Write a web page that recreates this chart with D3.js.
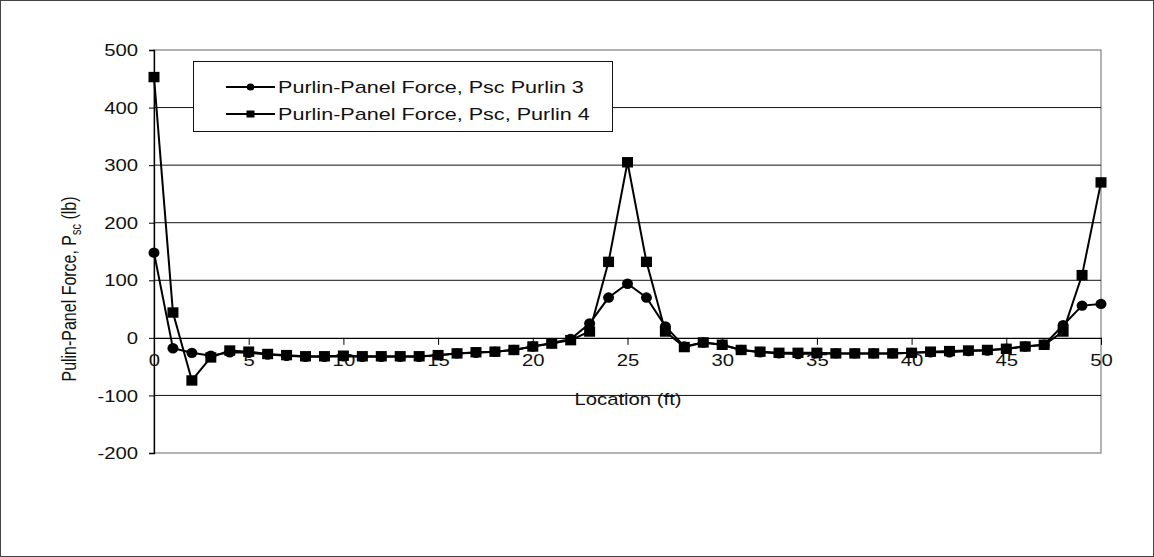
<!DOCTYPE html>
<html>
<head>
<meta charset="utf-8">
<script src="https://cdn.jsdelivr.net/npm/d3@7"></script>
<style>
  html, body { margin: 0; padding: 0; background: #fff; }
  svg { display: block; }
  text { font-family: "Liberation Sans", Arial, sans-serif; fill: #111; }
</style>
</head>
<body>
<svg id="chart" width="1154" height="557"></svg>
<script>
// Location along the purlin (ft)
const locations = d3.range(0, 51);

// Purlin-panel force, Purlin 3 (lb)
const purlin3 = [148, -18, -26, -31, -25, -26, -29, -31, -33, -33,
  -32, -33, -33, -33, -33, -30, -27, -26, -24, -21,
  -15, -9, -2, 25, 70, 94, 70, 20, -15, -8,
  -12, -21, -25, -27, -28, -27, -27, -27, -27, -27,
  -26, -25, -25, -23, -22, -19, -15, -12, 22, 56, 59];

// Purlin-panel force, Purlin 4 (lb)
const purlin4 = [453, 44, -74, -34, -22, -24, -28, -30, -32, -32,
  -31, -32, -32, -32, -32, -30, -27, -25, -24, -21,
  -15, -10, -4, 11, 132, 305, 132, 11, -16, -8,
  -12, -21, -24, -26, -26, -26, -27, -27, -27, -27,
  -26, -24, -23, -22, -21, -19, -15, -12, 11, 109, 270];

const seriesNames = ["Purlin-Panel Force, Psc Purlin 3", "Purlin-Panel Force, Psc, Purlin 4"];
const xTicks = [0, 5, 10, 15, 20, 25, 30, 35, 40, 45, 50];
const yTicks = [-200, -100, 0, 100, 200, 300, 400, 500];

const W = 1154, H = 557;
const plot = { left: 154, right: 1101, top: 50, bottom: 453 };
const SX = 1.27; // horizontal stretch of lettering

const svg = d3.select("#chart");

// outer frame
svg.append("rect")
  .attr("x", 0.5).attr("y", 0.5).attr("width", W - 1).attr("height", H - 1)
  .attr("fill", "#fff").attr("stroke", "#444").attr("stroke-width", 1);

const x = d3.scaleLinear().domain([0, 50]).range([plot.left, plot.right]);
const y = d3.scaleLinear().domain([-200, 500]).range([plot.bottom, plot.top]);

// plot area border
svg.append("rect")
  .attr("x", plot.left).attr("y", plot.top)
  .attr("width", plot.right - plot.left).attr("height", plot.bottom - plot.top)
  .attr("fill", "none").attr("stroke", "#8a8a8a").attr("stroke-width", 1.3);

// horizontal gridlines
svg.append("g").selectAll("line")
  .data(yTicks.filter(v => v > -200 && v < 500 && v !== 0))
  .join("line")
  .attr("x1", plot.left).attr("x2", plot.right)
  .attr("y1", d => y(d)).attr("y2", d => y(d))
  .attr("stroke", "#111").attr("stroke-width", 1);

// plain hyphen-minus labels
const fmt = d => String(d);

// y axis
const yAxis = svg.append("g")
  .attr("transform", `translate(${plot.left},0)`)
  .call(d3.axisLeft(y).tickValues(yTicks).tickFormat(fmt).tickSize(5).tickPadding(0));
yAxis.select(".domain").attr("stroke", "#000").attr("stroke-width", 1.3);
yAxis.selectAll(".tick line").attr("stroke", "#000");
yAxis.selectAll(".tick text")
  .attr("font-size", 16)
  .attr("font-family", "Liberation Sans, Arial, sans-serif")
  .attr("fill", "#111")
  .attr("x", -16 / SX)
  .attr("dy", "0.35em")
  .attr("transform", `scale(${SX},1)`);

// x axis drawn along zero line
const xAxis = svg.append("g")
  .attr("transform", `translate(0,${y(0)})`)
  .call(d3.axisBottom(x).tickValues(xTicks).tickFormat(fmt).tickSize(7).tickPadding(10).tickSizeOuter(0));
xAxis.select(".domain").attr("stroke", "#000").attr("stroke-width", 1.3);
xAxis.selectAll(".tick line").attr("stroke", "#000");
xAxis.selectAll(".tick text")
  .attr("font-size", 16)
  .attr("font-family", "Liberation Sans, Arial, sans-serif")
  .attr("fill", "#111")
  .attr("transform", `scale(${SX},1)`);

// series lines and markers
const line = d3.line().x((d, i) => x(locations[i])).y(d => y(d));

svg.append("path").datum(purlin3)
  .attr("d", line).attr("fill", "none").attr("stroke", "#000").attr("stroke-width", 2);
svg.append("path").datum(purlin4)
  .attr("d", line).attr("fill", "none").attr("stroke", "#000").attr("stroke-width", 2);

svg.append("g").selectAll("ellipse")
  .data(purlin3)
  .join("ellipse")
  .attr("cx", (d, i) => x(locations[i])).attr("cy", d => y(d))
  .attr("rx", 5.5).attr("ry", 5.2).attr("fill", "#000");

svg.append("g").selectAll("rect")
  .data(purlin4)
  .join("rect")
  .attr("x", (d, i) => x(locations[i]) - 5.5).attr("y", d => y(d) - 5.2)
  .attr("width", 11).attr("height", 10.4).attr("fill", "#000");

// legend
const lg = svg.append("g");
lg.append("rect")
  .attr("x", 193.5).attr("y", 61.5).attr("width", 419).attr("height", 70)
  .attr("fill", "#fff").attr("stroke", "#111").attr("stroke-width", 1);
const rows = [87, 114];
seriesNames.forEach((name, i) => {
  const ry = rows[i];
  lg.append("line").attr("x1", 226).attr("x2", 275).attr("y1", ry).attr("y2", ry)
    .attr("stroke", "#000").attr("stroke-width", 2);
  if (i === 0) {
    lg.append("ellipse").attr("cx", 250.5).attr("cy", ry).attr("rx", 3.8).attr("ry", 3.6).attr("fill", "#000");
  } else {
    lg.append("rect").attr("x", 246.5).attr("y", ry - 3.5).attr("width", 8).attr("height", 7).attr("fill", "#000");
  }
  lg.append("text")
    .attr("x", 278 / SX).attr("y", ry).attr("dy", "0.36em")
    .attr("font-size", 17)
    .attr("transform", `scale(${SX},1)`)
    .text(name);
});

// axis titles
svg.append("text")
  .attr("x", 628 / SX).attr("y", 405)
  .attr("text-anchor", "middle")
  .attr("font-size", 16)
  .attr("transform", `scale(${SX},1)`)
  .text("Location (ft)");

const yt = svg.append("text")
  .attr("text-anchor", "middle")
  .attr("font-size", 16)
  .attr("transform", `translate(76,289) scale(${SX},1) rotate(-90)`);
yt.append("tspan").text("Pulin-Panel Force, P");
yt.append("tspan").attr("font-size", 11).attr("dy", 4).text("sc");
yt.append("tspan").attr("dy", -4).text(" (lb)");
</script>
</body>
</html>
